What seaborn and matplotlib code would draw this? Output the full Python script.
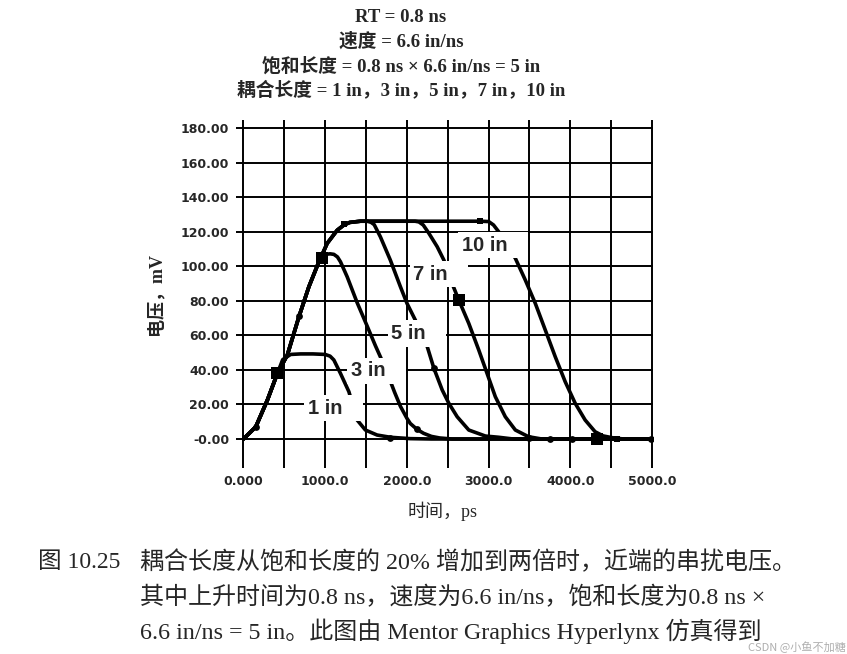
import numpy as np
import pandas as pd
import matplotlib
matplotlib.use("Agg")
import matplotlib.pyplot as plt
import seaborn as sns

# ---------------- data ----------------
curve_names = ["1 in", "3 in", "5 in", "7 in", "10 in"]

t_1in = [0, 150, 293, 415, 480, 577, 700, 850, 1000, 1060, 1106, 1187, 1290, 1391, 1492, 1635, 1797, 2041, 2300, 5000]
v_1in = [0, 7.0, 22.6, 38.0, 46.0, 49.0, 49.3, 49.3, 49.0, 48.0, 45.8, 38.0, 27.4, 11.0, 5.2, 2.3, 1.0, 0.2, 0, 0]

t_3in = [0, 150, 293, 415, 537, 679, 801, 923, 964, 1000, 1060, 1106, 1150, 1187, 1269, 1391, 1513, 1615, 1700,
         1777, 1850, 1920, 2000, 2041, 2123, 2204, 2300, 2400, 2550, 5000]
v_3in = [0, 7.0, 22.6, 38.0, 48.7, 70.9, 88.3, 102.7, 105.6, 107.0, 107.3, 107.0, 105.5, 102.7, 94.0, 79.0, 65.5,
         54.0, 45.0, 36.0, 27.0, 19.0, 12.0, 9.0, 5.6, 3.3, 1.5, 0.6, 0, 0]

t_5in = [0, 150, 293, 415, 537, 679, 801, 923, 1025, 1147, 1229, 1300, 1431, 1513, 1560, 1600, 1675, 1797, 1920,
         2001, 2102, 2249, 2330, 2432, 2513, 2615, 2757, 2961, 3123, 3300, 5000]
v_5in = [0, 7.0, 22.6, 38.0, 48.7, 70.9, 88.3, 102.7, 113.4, 121.0, 124.0, 125.5, 126.2, 126.2, 125.6, 124.2, 117.2,
         103.7, 88.3, 78.6, 69.0, 53.5, 41.0, 28.4, 20.7, 12.9, 5.2, 1.7, 1.0, 0, 0]

t_7in = [0, 150, 293, 415, 537, 679, 801, 923, 1025, 1147, 1229, 1300, 1431, 2000, 2100, 2147, 2200, 2269, 2371,
         2452, 2554, 2635, 2757, 2879, 2981, 3082, 3204, 3327, 3489, 3650, 5000]
v_7in = [0, 7.0, 22.6, 38.0, 48.7, 70.9, 88.3, 102.7, 113.4, 121.0, 124.0, 125.5, 126.2, 126.2, 126.2, 125.8, 124.0,
         119.2, 111.4, 103.7, 90.0, 80.5, 67.0, 51.6, 38.0, 24.5, 12.9, 5.2, 1.3, 0, 0]

t_10in = [0, 150, 293, 415, 537, 679, 801, 923, 1025, 1147, 1229, 1300, 1431, 2900, 3001, 3060, 3123, 3327, 3449,
          3571, 3693, 3815, 3937, 4059, 4181, 4303, 4400, 4506, 4650, 5000]
v_10in = [0, 7.0, 22.6, 38.0, 48.7, 70.9, 88.3, 102.7, 113.4, 121.0, 124.0, 125.5, 126.2, 126.2, 126.0, 124.0, 120.1,
          104.7, 92.1, 78.6, 63.2, 47.7, 33.2, 20.7, 11.0, 4.2, 1.8, 0.8, 0, 0]

# simulator markers on the traces
big_sq_t = [415, 964, 2635, 4324]
big_sq_v = [38.0, 104.7, 80.5, 0.0]
small_sq_t = [1229, 2900, 4567]
small_sq_v = [124.5, 126.2, 0.0]
dot_t = [150, 679, 1797, 2123, 2330, 3489, 3753, 4017, 4993]
dot_v = [7.0, 71.0, 0.6, 5.6, 41.0, 0.3, 0.0, 0.0, 0.0]

# in-plot curve labels (left edge of text, vertical centre)
label_text = ["1 in", "3 in", "5 in", "7 in", "10 in"]
label_t = [789, 1316, 1809, 2078, 2671]
label_v = [17.8, 39.6, 61.2, 95.6, 112.4]

x_ticks = [0, 1000, 2000, 3000, 4000, 5000]
x_tick_labels = ["0.000", "1000.0", "2000.0", "3000.0", "4000.0", "5000.0"]
x_minor = [500, 1500, 2500, 3500, 4500]
y_ticks = [0, 20, 40, 60, 80, 100, 120, 140, 160, 180]
y_tick_labels = ["-0.00", "20.00", "40.00", "60.00", "80.00", "100.00", "120.00", "140.00", "160.00", "180.00"]

title_lines = ["RT = 0.8 ns",
               "速度 = 6.6 in/ns",
               "饱和长度 = 0.8 ns × 6.6 in/ns = 5 in",
               "耦合长度 = 1 in，3 in，5 in，7 in，10 in"]
x_label = "时间，ps"
y_label = "电压，mV"
fig_no = "图 10.25"
caption_lines = ["耦合长度从饱和长度的 20% 增加到两倍时，近端的串扰电压。",
                 "其中上升时间为0.8 ns，速度为6.6 in/ns，饱和长度为0.8 ns ×",
                 "6.6 in/ns = 5 in。此图由 Mentor Graphics Hyperlynx 仿真得到"]
watermark = "CSDN @小鱼不加糖"

# ---------------- build long-form table ----------------
frames = []
for name, t, v in zip(curve_names, [t_1in, t_3in, t_5in, t_7in, t_10in],
                      [v_1in, v_3in, v_5in, v_7in, v_10in]):
    frames.append(pd.DataFrame({"t": t, "v": v, "curve": name}))
df = pd.concat(frames, ignore_index=True)

# ---------------- figure ----------------
sns.set_style("white")
SERIF_CJK = ["Liberation Serif", "Noto Sans CJK SC"]
plt.rcParams["font.family"] = ["DejaVu Sans", "Noto Sans CJK SC"]

fig = plt.figure(figsize=(8.47, 6.54), dpi=100)
fig.patch.set_facecolor("white")
ax = fig.add_axes([0.2863, 0.2839, 0.4847, 0.5330])
ax.set_facecolor("white")

sns.lineplot(data=df, x="t", y="v", hue="curve", palette={n: "black" for n in curve_names},
             estimator=None, sort=False, legend=False, linewidth=2.6, ax=ax, zorder=3)

sns.scatterplot(x=big_sq_t, y=big_sq_v, marker="s", s=75, color="black", linewidth=0, ax=ax, zorder=6)
sns.scatterplot(x=small_sq_t, y=small_sq_v, marker="s", s=22, color="black", linewidth=0, ax=ax, zorder=6)
sns.scatterplot(x=dot_t, y=dot_v, marker="o", s=24, color="black", linewidth=0, ax=ax, zorder=6)

for txt, tx, vy in zip(label_text, label_t, label_v):
    ax.text(tx, vy, txt + "   ", ha="left", va="center", fontsize=14.5, fontweight="bold",
            family=["Liberation Sans", "DejaVu Sans"], zorder=5,
            bbox=dict(boxstyle="square,pad=0.18", facecolor="white", edgecolor="none"))

ax.set_xlim(-12, 5012)
ax.set_ylim(-17, 185)
ax.set_xticks(x_ticks)
ax.set_xticks(x_minor, minor=True)
ax.set_xticklabels(x_tick_labels)
ax.set_yticks(y_ticks)
ax.set_yticklabels(y_tick_labels)

ax.grid(True, which="both", axis="x", color="black", linewidth=1.4, zorder=1)
ax.grid(True, which="major", axis="y", color="black", linewidth=1.4, zorder=1)
ax.set_axisbelow(True)
for sp in ax.spines.values():
    sp.set_visible(False)

ax.tick_params(axis="x", which="both", length=0, pad=4.5)
ax.tick_params(axis="y", which="major", length=4, width=1.4, color="black", direction="out", pad=5.6, left=True)
for lab in ax.get_xticklabels() + ax.get_yticklabels():
    lab.set_fontsize(9)
    lab.set_fontweight("bold")
    lab.set_family("DejaVu Sans")

ax.set_xlabel(x_label, fontsize=13, family=SERIF_CJK)
ax.set_ylabel(y_label, fontsize=13, family=SERIF_CJK, fontweight="bold")
ax.xaxis.set_label_coords(0.487, -0.094)
ax.yaxis.set_label_coords(-0.19, 0.5)

W, H = 847.0, 654.0
for line, yc in zip(title_lines, [17, 41, 66, 90]):
    fig.text(401 / W, 1 - yc / H, line, ha="center", va="center", fontsize=13.5,
             family=SERIF_CJK, fontweight="bold")

fig.text(38 / W, 1 - 562 / H, fig_no, ha="left", va="center", fontsize=17, family=SERIF_CJK)
for line, yc in zip(caption_lines, [562, 598, 631]):
    fig.text(140 / W, 1 - yc / H, line, ha="left", va="center", fontsize=17.3, family=SERIF_CJK)
fig.text(846 / W, 1 - 647 / H, watermark, ha="right", va="center", fontsize=8,
         family=["Noto Sans CJK SC", "DejaVu Sans"], color="#9a9a9a", alpha=0.8)

fig.savefig("out.png", dpi=100, facecolor="white")
